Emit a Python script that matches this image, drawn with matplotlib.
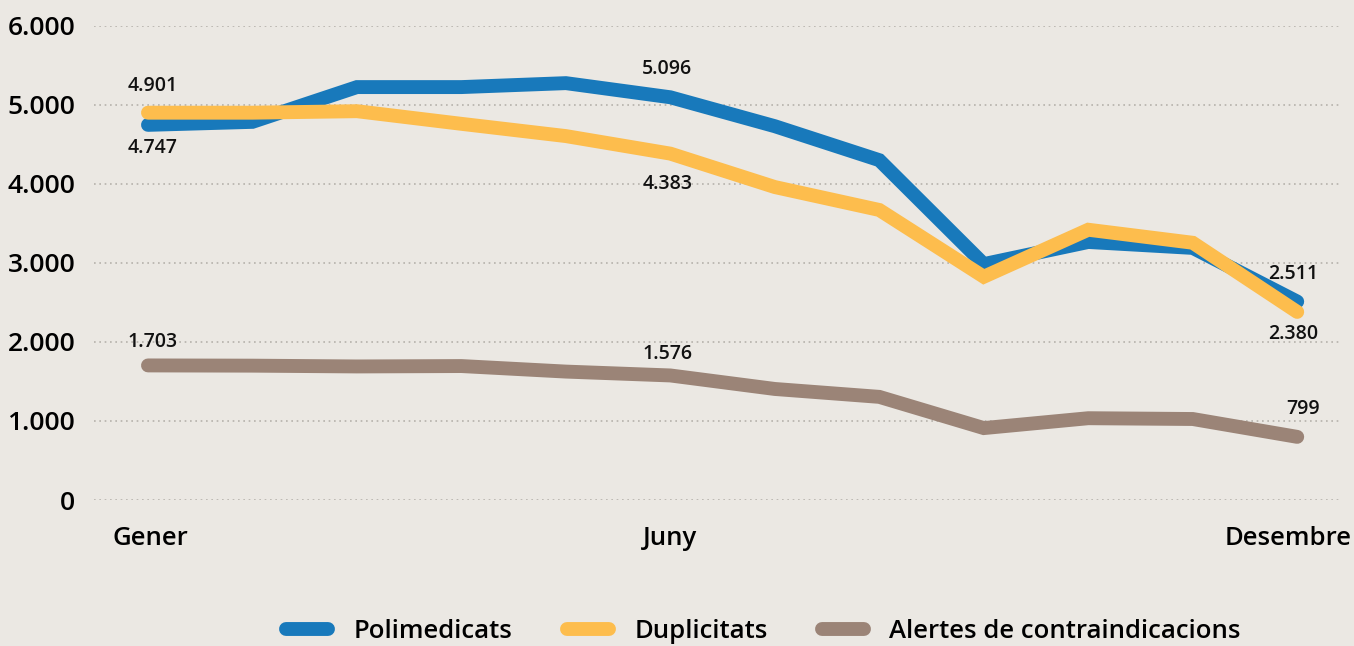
import matplotlib
matplotlib.use("Agg")
import matplotlib.pyplot as plt
import matplotlib.transforms as mtrans
from matplotlib.ticker import FuncFormatter

months = list(range(12))
month_labels = {0: "Gener", 5: "Juny", 11: "Desembre"}
polimedicats = [4747, 4785, 5225, 5225, 5275, 5096, 4730, 4300, 2985, 3265, 3190, 2511]
duplicitats = [4901, 4901, 4920, 4760, 4605, 4383, 3960, 3670, 2825, 3420, 3255, 2380]
alertes = [1703, 1700, 1690, 1695, 1625, 1576, 1405, 1305, 910, 1035, 1025, 799]
series_names = ["Polimedicats", "Duplicitats", "Alertes de contraindicacions"]

# annotations: (series index, month index, offset px x, offset px y)
annots = [
    (1, 0, 5, 27), (0, 0, 5, -23),
    (0, 5, -3, 28), (1, 5, -3, -30),
    (2, 0, 5, 23), (2, 5, -3, 21),
    (0, 11, -4, 28), (1, 11, -4, -22), (2, 11, 6, 28),
]

BG = "#ebe8e3"
colors = ["#1879bb", "#fdbd4d", "#9b8477"]
FONT = "Open Sans"

fig = plt.figure(figsize=(13.54, 6.46), dpi=100, facecolor=BG)
ax = fig.add_axes([0.0694, 0.226, 0.9203, 0.734])
ax.set_facecolor(BG)

data = [polimedicats, duplicitats, alertes]
for vals, c, name in zip(data, colors, series_names):
    ax.plot(months, vals, color=c, lw=10, solid_capstyle="round",
            solid_joinstyle="miter", label=name)

for si, mi, dx, dy in annots:
    v = data[si][mi]
    ax.annotate(f"{v:,}".replace(",", "."), (months[mi], v),
                xytext=(dx, dy), textcoords="offset pixels",
                ha="center", va="center", fontsize=14,
                fontfamily=FONT, fontweight="semibold", color="#111111")

ax.set_xlim(-0.517, 11.41)
ax.set_ylim(0, 6000)
ax.set_yticks(range(0, 6001, 1000))
ax.yaxis.set_major_formatter(FuncFormatter(lambda v, p: f"{int(v):,}".replace(",", ".")))
ax.set_xticks(list(month_labels.keys()))
ax.set_xticklabels(list(month_labels.values()))
ax.grid(axis="y", color="#b5b1ab", linestyle=(0, (1, 2.2)), lw=1.2)
ax.set_axisbelow(True)
for s in ax.spines.values():
    s.set_visible(False)
ax.tick_params(length=0)
ax.tick_params(axis="y", pad=13.5)
ax.tick_params(axis="x", pad=19)
for lbl in ax.get_yticklabels():
    lbl.set_fontsize(19)
    lbl.set_fontfamily(FONT)
    lbl.set_fontweight("semibold")
xl = ax.get_xticklabels()
for lbl in xl:
    lbl.set_fontsize(18.5)
    lbl.set_fontfamily(FONT)
    lbl.set_fontweight("semibold")
xl[0].set_transform(xl[0].get_transform() +
                    mtrans.ScaledTranslation(2 / 100, 0, fig.dpi_scale_trans))
xl[-1].set_transform(xl[-1].get_transform() +
                     mtrans.ScaledTranslation(-9 / 100, 0, fig.dpi_scale_trans))

leg = fig.legend(loc="center", bbox_to_anchor=(0.564, 1 - 631 / 646), ncol=3,
                 frameon=False, handlelength=1.63, handletextpad=1.0,
                 columnspacing=2.1,
                 prop={"family": FONT, "size": 18.5, "weight": "semibold"})

fig.savefig("out.png", dpi=100, facecolor=BG)
